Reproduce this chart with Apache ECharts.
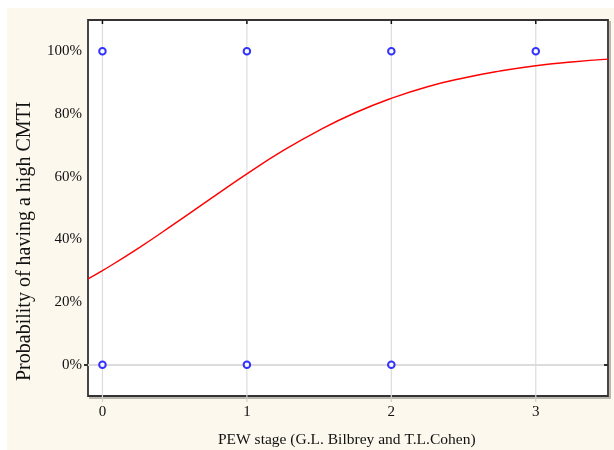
<!DOCTYPE html>
<html>
<head>
<meta charset="utf-8">
<script src="https://cdn.jsdelivr.net/npm/echarts@6/dist/echarts.min.js"></script>
<style>
  html, body { margin: 0; padding: 0; background: #ffffff; }
  #chart { width: 614px; height: 450px; }
</style>
</head>
<body>
<div id="chart"></div>
<script>
// Observed outcomes: PEW stage vs. high CMTI (0% = no, 100% = yes)
const obsStage = [0, 0, 1, 1, 2, 2, 3];
const obsProb = [100, 0, 100, 0, 100, 0, 100];
// Overlapping observations at the same position (drawn with a heavier ring)
const obsCount = [1, 1, 3, 3, 3, 1, 1];

// Fitted logistic probability curve
const fitStage = [-0.1, 0, 0.25, 0.5, 0.75, 1, 1.25, 1.5, 1.75, 2, 2.25, 2.5, 2.75, 3, 3.25, 3.5];
const fitProb = [27.4, 30.0, 37.2, 45.0, 53.0, 60.9, 68.3, 74.8, 80.4, 85.0, 88.7, 91.5, 93.7, 95.4, 96.6, 97.5];

const xTicks = [0, 1, 2, 3];
const yTicks = [0, 20, 40, 60, 80, 100];

const xMin = -0.1, xMax = 3.5;
const yMin = -10, yMax = 110;

const xTitle = 'PEW stage (G.L. Bilbrey and T.L.Cohen)';
const yTitle = 'Probability of having a high CMTI';

const serif = '"Liberation Serif", "DejaVu Serif", serif';
const gridColor = '#dcdcdc';
const frameColor = '#333333';

const chart = echarts.init(document.getElementById('chart'), null, { renderer: 'canvas' });

const obsData = obsStage.map((s, i) => ({
  value: [s, obsProb[i]],
  itemStyle: { borderWidth: obsCount[i] > 1 ? 2.3 : 1.4 }
}));
const fitData = fitStage.map((s, i) => [s, fitProb[i]]);

// Grid lines plus tick marks on all four sides, positioned through the axis scales
function renderXTick(params, api) {
  const v = api.value(0);
  const bot = api.coord([v, yMin]);
  const top = api.coord([v, yMax]);
  return {
    type: 'group',
    children: [
      { type: 'line', shape: { x1: bot[0], y1: top[1], x2: bot[0], y2: bot[1] },
        style: { stroke: gridColor, lineWidth: 1.2 } },
      { type: 'line', shape: { x1: bot[0], y1: bot[1], x2: bot[0], y2: bot[1] + 6 },
        style: { stroke: '#cfcfcf', lineWidth: 1.2 } },
      { type: 'line', shape: { x1: top[0], y1: top[1], x2: top[0], y2: top[1] + 4 },
        style: { stroke: '#111', lineWidth: 1.5 } }
    ]
  };
}
function renderYTick(params, api) {
  const v = api.value(0);
  const l = api.coord([xMin, v]);
  const r = api.coord([xMax, v]);
  return {
    type: 'group',
    children: [
      { type: 'line', shape: { x1: l[0], y1: l[1], x2: r[0], y2: l[1] },
        style: { stroke: gridColor, lineWidth: 1.2 } },
      { type: 'line', shape: { x1: l[0] - 4, y1: l[1], x2: l[0], y2: l[1] },
        style: { stroke: '#333', lineWidth: 1.3 } },
      { type: 'line', shape: { x1: r[0] - 4, y1: r[1], x2: r[0], y2: r[1] },
        style: { stroke: '#111', lineWidth: 1.5 } }
    ]
  };
}

chart.setOption({
  animation: false,
  backgroundColor: '#ffffff',
  graphic: [
    {
      type: 'rect',
      z: -10,
      shape: { x: 7, y: 8, width: 607, height: 442 },
      style: { fill: '#fdf8ed' }
    },
    {
      type: 'rect',
      z: -9,
      shape: { x: 88, y: 20, width: 520, height: 376 },
      style: { fill: '#ffffff' }
    },
    {
      // soft shadow along the right and bottom edges of the frame
      type: 'polyline',
      z: -8,
      shape: { points: [[610, 21], [610, 398], [89, 398]] },
      style: { stroke: 'rgba(0,0,0,0.35)', lineWidth: 1.5, fill: null }
    },
    {
      type: 'text',
      left: 218,
      top: 432,
      style: { text: xTitle, font: '15.5px ' + serif, fill: '#111' }
    },
    {
      type: 'text',
      x: 15,
      y: 381,
      rotation: Math.PI / 2,
      style: { text: yTitle, font: '20px ' + serif, fill: '#111', align: 'left', verticalAlign: 'top' }
    }
  ],
  grid: {
    left: 88,
    top: 20,
    width: 520,
    height: 376,
    show: true,
    borderColor: frameColor,
    borderWidth: 1.8,
    backgroundColor: 'transparent'
  },
  xAxis: {
    type: 'value',
    min: xMin,
    max: xMax,
    axisLine: { show: false },
    axisTick: { show: false },
    axisLabel: {
      color: '#111', fontFamily: serif, fontSize: 15, margin: 9,
      customValues: xTicks
    },
    splitLine: { show: false }
  },
  yAxis: {
    type: 'value',
    min: yMin,
    max: yMax,
    axisLine: { show: false },
    axisTick: { show: false },
    axisLabel: {
      color: '#111', fontFamily: serif, fontSize: 15, margin: 6,
      formatter: '{value}%',
      customValues: yTicks
    },
    splitLine: { show: false }
  },
  series: [
    {
      type: 'custom',
      silent: true,
      clip: false,
      renderItem: renderXTick,
      data: xTicks.map(v => [v, yMin]),
      z: 1
    },
    {
      type: 'custom',
      silent: true,
      clip: false,
      renderItem: renderYTick,
      data: yTicks.map(v => [xMin, v]),
      encode: { x: 0, y: 1 },
      z: 1
    },
    {
      name: 'fit',
      type: 'line',
      data: fitData,
      smooth: true,
      showSymbol: false,
      lineStyle: { color: '#ff0000', width: 1.4 },
      z: 3
    },
    {
      name: 'observed',
      type: 'scatter',
      data: obsData,
      symbol: 'emptyCircle',
      symbolSize: 6.5,
      itemStyle: { color: '#0000ff', borderColor: '#0000ff' },
      z: 4
    }
  ]
});
</script>
</body>
</html>
